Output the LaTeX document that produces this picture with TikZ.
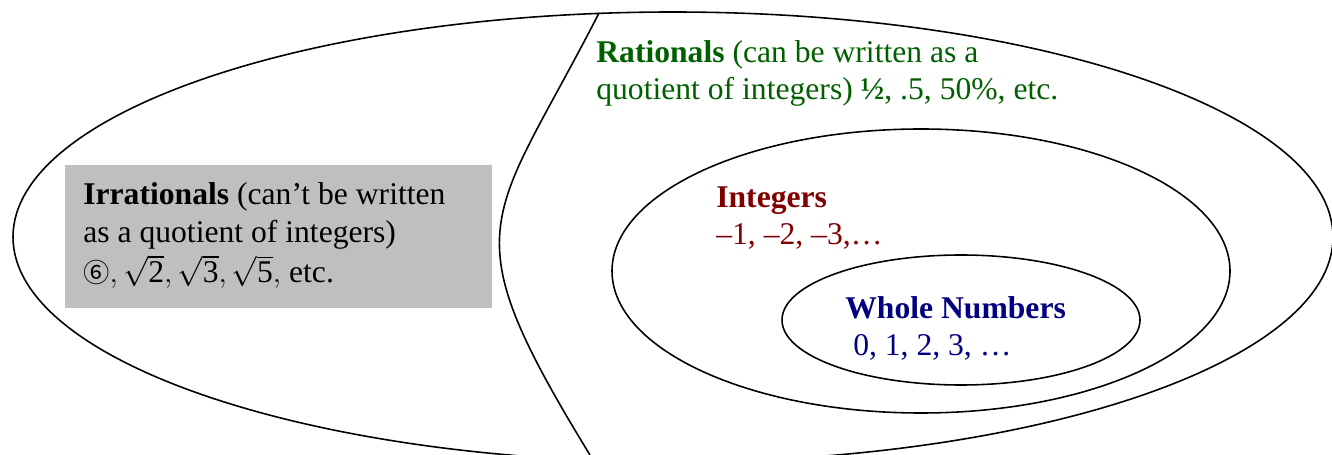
\documentclass[tikz,border=0pt]{standalone}
\usepackage{fontspec}
\setmainfont{Liberation Serif}
\newfontfamily\cjk{Noto Sans CJK JP}
\usepackage{tikz}
\definecolor{ratgreen}{RGB}{0,96,0}
\definecolor{intred}{RGB}{128,0,0}
\definecolor{wholeblue}{RGB}{0,0,128}

\begin{document}
\begin{tikzpicture}[x=0.02cm,y=-0.02cm]
\tikzstyle{c3} = [color = wholeblue]
\tikzstyle{c2} = [color = intred]
\tikzstyle{c1} = [color = ratgreen]
\tikzstyle{c0} = [color = black]
\tikzstyle{lbl} = [anchor=base west,inner sep=0mm,align=left,font=\fontsize{18}{21.6}\selectfont]

\useasboundingbox (0,0) rectangle (1332,455);
\clip (0,0) rectangle (1332,455);

\begin{scope}[line width=0.9pt]
\draw (673,237) ellipse [x radius=660, y radius=225];
\draw (921,271) ellipse [x radius=309, y radius=142];
\draw (961,320) ellipse [x radius=179, y radius=65];
\draw (599,13) .. controls (490,226) and (448,223) .. (590,455);
\end{scope}

\fill[black!25] (65,165) rectangle (492,308);

% base anchor = baseline of the last line
\draw(83,283) node[lbl,c0]  (irr)   {\textbf{Irrationals} (can’t be written\\
  as a quotient of integers)\\[1.5pt]
  $\mbox{\cjk\fontsize{15}{15}\selectfont ⑥},\sqrt{\mbox{2}},\sqrt{\mbox{3}},\sqrt{\mbox{5}},$ etc.};
\draw(596,100) node[lbl,c1] (rat)   {\textbf{Rationals} (can be written as a\\
  quotient of integers) \textbf{½}, .5, 50\%, etc.};
\draw(716,245) node[lbl,c2] (integ) {\textbf{Integers}\\ –1, –2, –3,…};
\draw(845,356) node[lbl,c3] (whole) {\textbf{Whole Numbers}\\ \hspace{0.25em}0, 1, 2, 3, …};

\end{tikzpicture}
\end{document}
